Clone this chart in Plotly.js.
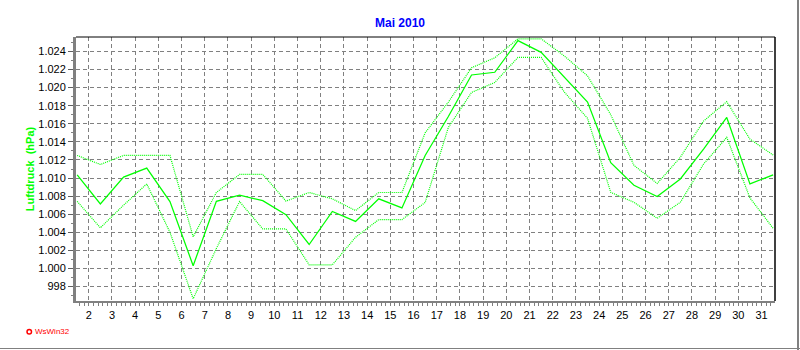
<!DOCTYPE html>
<html><head><meta charset="utf-8">
<script src="https://cdn.plot.ly/plotly-3.0.1.min.js"></script>
<style>
html,body{margin:0;padding:0;background:#fff;}
#wrap{position:relative;width:800px;height:350px;overflow:hidden;}
#chart{position:absolute;left:0;top:0;width:800px;height:350px;}
#bR{position:absolute;left:797px;top:0;width:2px;height:350px;background:#808080;}
#bB{position:absolute;left:0;top:348px;width:800px;height:1px;background:#808080;}
</style></head>
<body>
<div id="wrap"><div id="chart"></div><div id="bR"></div><div id="bB"></div></div>
<script>
// Luftdruck Mai 2010 (hPa), one value per day
const days = [1,2,3,4,5,6,7,8,9,10,11,12,13,14,15,16,17,18,19,20,21,22,23,24,25,26,27,28,29,30,31];
const pressureMean = [1010.35,1007.13,1010.1,1011.1,1007.4,1000.3,1007.43,1008.1,1007.5,1005.95,1002.65,1006.3,1005.2,1007.7,1006.7,1012.5,1016.8,1021.4,1021.7,1025.2,1023.9,1021.1,1018.4,1011.7,1009.2,1007.95,1009.9,1013.2,1016.7,1009.35,1010.35];
const pressureMax = [1012.5,1011.5,1012.5,1012.5,1012.5,1003.5,1008.4,1010.4,1010.4,1007.45,1008.4,1007.7,1006.4,1008.4,1008.4,1015.0,1018.4,1022.2,1023.3,1025.4,1025.4,1023.5,1021.3,1017.0,1011.4,1009.4,1012.3,1016.3,1018.45,1014.3,1012.55];
const pressureMin = [1007.43,1004.5,1007.0,1009.35,1004.0,996.65,1002.2,1007.4,1004.37,1004.37,1000.4,1000.4,1003.45,1005.4,1005.4,1007.3,1015.6,1019.47,1020.57,1023.34,1023.34,1019.5,1016.6,1008.42,1007.32,1005.55,1007.32,1011.55,1014.5,1007.8,1004.44];
const yTickVals = [998,1000,1002,1004,1006,1008,1010,1012,1014,1016,1018,1020,1022,1024];
const yTickText = ['998','1.000','1.002','1.004','1.006','1.008','1.010','1.012','1.014','1.016','1.018','1.020','1.022','1.024'];
const xTickVals = [2,3,4,5,6,7,8,9,10,11,12,13,14,15,16,17,18,19,20,21,22,23,24,25,26,27,28,29,30,31];
const xTickText = xTickVals.map(String);

// values are daily, plotted at midday
const xs = days.map(d => d + 0.5);
const green = '#00ff00';
const font = 'Liberation Sans, Arial, sans-serif';

const traces = [
  {x: xs, y: pressureMax, type: 'scatter', mode: 'lines', name: 'Max',
   line: {color: green, width: 1.2, dash: '1px,1px'}, hoverinfo: 'skip'},
  {x: xs, y: pressureMin, type: 'scatter', mode: 'lines', name: 'Min',
   line: {color: green, width: 1.2, dash: '1px,1px'}, hoverinfo: 'skip'},
  {x: xs, y: pressureMean, type: 'scatter', mode: 'lines', name: 'Mittel',
   line: {color: green, width: 1.25}, hoverinfo: 'skip'}
];

const layout = {
  width: 800, height: 350,
  margin: {l: 76, r: 25, t: 37, b: 49},
  paper_bgcolor: '#ffffff', plot_bgcolor: '#ffffff',
  showlegend: false,
  font: {family: font, size: 11, color: '#000000'},
  title: {text: '<b>Mai 2010</b>', font: {family: font, size: 12, color: '#0000ff'},
          xref: 'container', x: 0.5, xanchor: 'center', yref: 'container', y: 1 - 23/350, yanchor: 'middle'},
  xaxis: {
    range: [1.45, 31.58], tickmode: 'array', tickvals: xTickVals, ticktext: xTickText,
    showgrid: true, gridcolor: '#808080', gridwidth: 1, griddash: '4px,3px',
    showline: true, linecolor: '#808080', linewidth: 2, zeroline: false,
    ticks: 'outside', ticklen: 3, tickcolor: '#808080', tickwidth: 1,
    tickfont: {family: font, size: 11, color: '#000000'},
    minor: {tick0: 0, dtick: 0.2, ticks: 'outside', ticklen: 3, tickcolor: '#808080', showgrid: false}
  },
  yaxis: {
    range: [996.4, 1025.6], tickmode: 'array', tickvals: yTickVals, ticktext: yTickText,
    showgrid: true, gridcolor: '#808080', gridwidth: 1, griddash: '4px,3px',
    showline: true, linecolor: '#808080', linewidth: 3, zeroline: false,
    ticks: 'outside', ticklen: 5, tickcolor: '#606060', tickwidth: 1,
    tickfont: {family: font, size: 11, color: '#000000'},
    minor: {tick0: 0, dtick: 1, ticks: 'outside', ticklen: 2, tickcolor: '#808080', showgrid: false},
    title: {text: '<b>Luftdruck\u00a0 (hPa)</b>', font: {family: font, size: 11, color: green}, standoff: 2}
  },
  shapes: [
    {type: 'line', xref: 'paper', yref: 'paper', x0: 0, x1: 1, y0: 1, y1: 1, line: {color: '#000000', width: 1}},
    {type: 'line', xref: 'paper', yref: 'paper', x0: 1, x1: 1, y0: 0, y1: 1, line: {color: '#000000', width: 1.5}},
    {type: 'circle', xref: 'paper', yref: 'paper', x0: (27-76)/699, x1: (31.5-76)/699, y0: (301-334)/264, y1: (301-329.5)/264,
     line: {color: '#ff0000', width: 1.5}, fillcolor: '#ffffff'}
  ],
  annotations: [
    {text: 'WsWin32', xref: 'paper', yref: 'paper', x: (33-76)/699, y: (301-331.7)/264,
     xanchor: 'left', yanchor: 'middle', showarrow: false, font: {family: font, size: 8, color: '#ff0000'}}
  ]
};

Plotly.newPlot('chart', traces, layout, {displayModeBar: false, staticPlot: true});
</script>
</body></html>
